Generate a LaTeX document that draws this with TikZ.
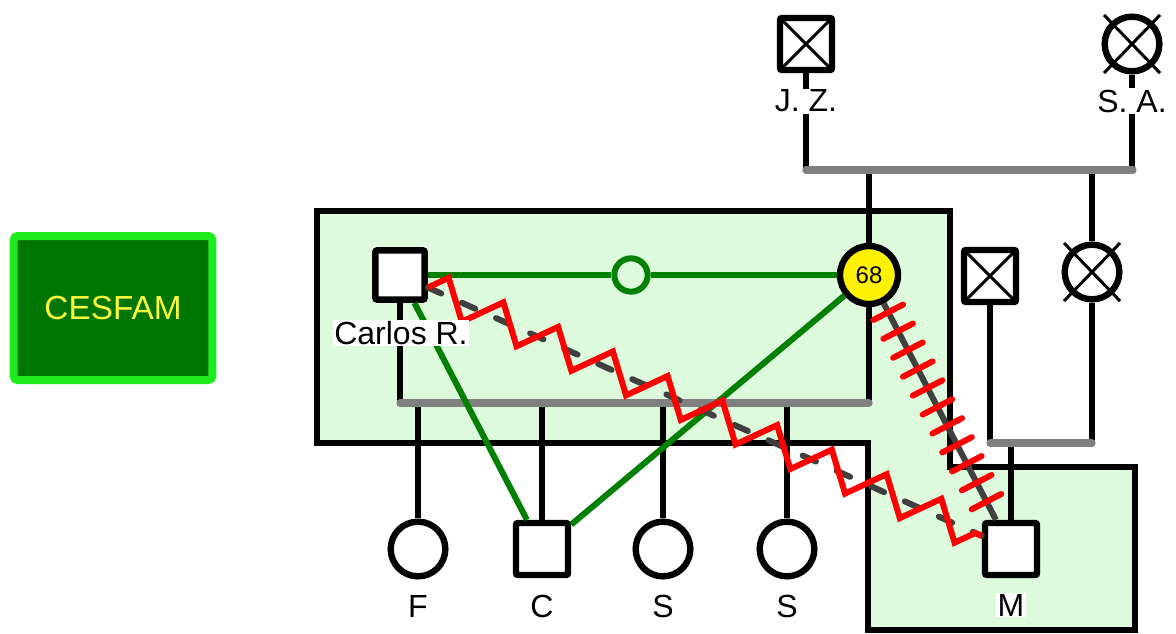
\documentclass[tikz,border=0pt]{standalone}
\usepackage{fontspec}
\setmainfont{Liberation Sans}
\usetikzlibrary{decorations.pathmorphing, decorations.markings}
\definecolor{homegreen}{RGB}{221,250,221}
\definecolor{bondgreen}{RGB}{0,128,0}
\definecolor{cesdark}{RGB}{0,118,0}
\definecolor{ceslime}{RGB}{30,235,30}
\definecolor{cesyellow}{RGB}{250,250,60}
\definecolor{darkline}{RGB}{64,64,64}
\tikzset{
  male/.style={rectangle, draw=black, line width=4.8pt, fill=white, minimum size=37pt,
               rounded corners=1.5pt, inner sep=0pt},
  female/.style={circle, draw=black, line width=4.8pt, fill=white, minimum size=41pt, inner sep=0pt},
  dead/.style={path picture={\draw[line width=2.25pt]
      (path picture bounding box.north west) -- (path picture bounding box.south east)
      (path picture bounding box.south west) -- (path picture bounding box.north east);}},
  lbl/.style={fill=white, inner sep=1pt, font=\fontsize{24}{28}\selectfont},
  kin/.style={line width=4.8pt, black},
  couple/.style={line width=5.5pt, gray, line cap=round},
  home/.style={draw=black, line width=4.5pt, fill=homegreen},
  bond/.style={line width=4.5pt, bondgreen},
  hostile/.style={red, line width=4.5pt, decorate,
                  decoration={zigzag, segment length=45pt, amplitude=13pt}},
  dashline/.style={darkline, line width=4.5pt, line cap=round, dash pattern=on 11pt off 17pt},
  conflict/.style={darkline, line width=4.5pt, postaction={decorate, decoration={markings,
      mark=between positions 0.04 and 0.99 step 16pt with
      {\draw[red, line width=4.5pt, line cap=round] (0,-12.5pt) -- (0,12.5pt);}}}},
}
\begin{document}
\begin{tikzpicture}[x=0.75pt, y=-0.75pt]
\useasboundingbox (0,0) rectangle (1176,633);

% households
\draw[home] (317,211) -- (950,211) -- (950,467) -- (1135,467) -- (1135,630)
  -- (868,630) -- (868,443) -- (317,443) -- cycle;
\node[rectangle, rounded corners=3pt, fill=cesdark, draw=ceslime, line width=6pt,
      minimum width=149pt, minimum height=108pt, text=cesyellow,
      font=\fontsize{25}{30}\selectfont] (cesfam) at (113,308) {CESFAM};

% people
\node[male, dead, minimum size=39pt] (jz) at (806,44) {};
\node[female] (sa) at (1132,44) {};
\node[male] (carlos) at (400,275) {};
\node[female, fill=yellow, minimum size=43.5pt, font=\fontsize{18}{20}\selectfont] (ego) at (869,275) {68};
\node[circle, draw=bondgreen, line width=4.5pt, minimum size=25pt, inner sep=0pt] (gcirc) at (631,275) {};
\node[male, dead, minimum size=39pt] (xsq) at (990,276) {};
\node[female] (xcirc) at (1092,272) {};
\node[female] (f) at (418,549) {};
\node[male, minimum size=39pt] (c) at (542,549) {};
\node[female] (s1) at (663,549) {};
\node[female] (s2) at (787,549) {};
\node[male, minimum size=39pt] (m) at (1011,549) {};

\foreach \p in {sa, xcirc}
  \draw[line width=2.25pt] ([shift={(-28,-29)}]\p.center) -- ([shift={(28,29)}]\p.center)
    ([shift={(-28,29)}]\p.center) -- ([shift={(28,-29)}]\p.center);

% family lines
\coordinate (u0a) at (806,170);
\coordinate (u0b) at (1133,170);
\coordinate (u1a) at (400,403);
\coordinate (u1b) at (869,403);
\coordinate (u2a) at (990,443);
\coordinate (u2b) at (1092,443);

\draw[kin] (jz) -- (jz |- u0a);
\draw[kin] (sa) -- (sa |- u0a);
\draw[kin] (ego |- u0a) -- (ego);
\draw[kin] (xcirc |- u0a) -- (xcirc);
\draw[kin] (carlos) -- (carlos |- u1a);
\draw[kin] (ego) -- (ego |- u1a);
\foreach \k in {f, c, s1, s2}
  \draw[kin] (\k |- u1a) -- (\k);
\draw[kin] (xsq) -- (xsq |- u2a);
\draw[kin] (xcirc) -- (xcirc |- u2a);
\draw[kin] (m |- u2a) -- (m);

\draw[couple] (u0a) -- (u0b);
\draw[couple] (u1a) -- (u1b);
\draw[couple] (u2a) -- (u2b);

% relations
\draw[bond] (carlos) -- (gcirc);
\draw[bond] (gcirc) -- (ego);
\draw[bond] (carlos) -- (c);
\draw[bond] (ego) -- (c);
\draw[dashline] (carlos) -- (m);
\draw[hostile] (carlos) -- (m);
\draw[conflict] (ego) -- (m);

% names
\node[lbl] (jzname) at (806,101) {J. Z.};
\node[lbl] (saname) at (1132,101) {S. A.};
\node[lbl] (carlosname) at (401,333) {Carlos R.};
\node[lbl] (fname) at (418,606) {F};
\node[lbl] (cname) at (542,606) {C};
\node[lbl] (s1name) at (663,606) {S};
\node[lbl] (s2name) at (787,606) {S};
\node[lbl] (mname) at (1011,605) {M};
\end{tikzpicture}
\end{document}
